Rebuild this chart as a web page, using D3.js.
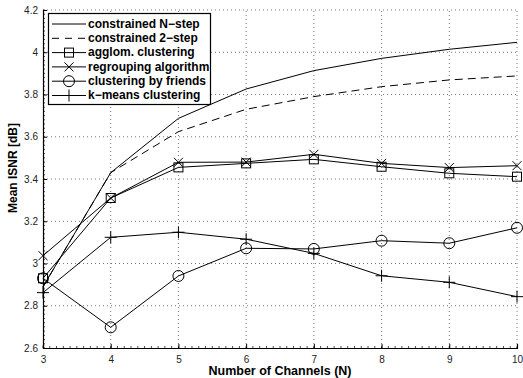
<!DOCTYPE html>
<html>
<head>
<meta charset="utf-8">
<script src="https://cdn.jsdelivr.net/npm/d3@7"></script>
<style>
  body { margin: 0; background: #fff; }
  svg { display: block; }
  text { font-family: "Liberation Sans", Arial, sans-serif; }
</style>
</head>
<body>
<div id="chart"></div>
<script>
// channel counts on the x axis
var channels = [3, 4, 5, 6, 7, 8, 9, 10];

// mean ISNR per method [dB]
var constrainedN  = [2.89, 3.43, 3.687, 3.826, 3.913, 3.971, 4.014, 4.047];
var constrained2  = [2.89, 3.43, 3.624, 3.73, 3.79, 3.837, 3.869, 3.888];
var agglom        = [2.93, 3.31, 3.455, 3.474, 3.493, 3.458, 3.427, 3.411];
var regrouping    = [3.037, 3.31, 3.479, 3.48, 3.517, 3.474, 3.454, 3.463];
var friends       = [2.93, 2.698, 2.941, 3.072, 3.069, 3.108, 3.096, 3.169];
var kmeans        = [2.862, 3.124, 3.148, 3.115, 3.048, 2.942, 2.911, 2.843];

var yTicks = [2.6, 2.8, 3, 3.2, 3.4, 3.6, 3.8, 4, 4.2];

var series = [
    { name: 'constrained N\u2212step', values: constrainedN, dash: null, marker: 'none' },
    { name: 'constrained 2\u2212step', values: constrained2, dash: '8,5', marker: 'none' },
    { name: 'agglom. clustering', values: agglom, dash: null, marker: 'square' },
    { name: 'regrouping algorithm', values: regrouping, dash: null, marker: 'cross' },
    { name: 'clustering by friends', values: friends, dash: null, marker: 'circle' },
    { name: 'k\u2212means clustering', values: kmeans, dash: null, marker: 'plus' }
];

var width = 523, height = 378;
var margin = { left: 43, right: 6, top: 10, bottom: 30 };

var svg = d3.select('#chart').append('svg')
    .attr('width', width)
    .attr('height', height);

var x = d3.scaleLinear().domain([3, 10]).range([margin.left, width - margin.right]);
var y = d3.scaleLinear().domain([2.6, 4.2]).range([height - margin.bottom, margin.top]);

// dotted grid
svg.append('g').selectAll('line')
    .data(channels.slice(1)).enter()
    .append('line')
    .attr('x1', function(d) { return x(d); })
    .attr('x2', function(d) { return x(d); })
    .attr('y1', y(2.6)).attr('y2', y(4.2))
    .attr('stroke', '#555').attr('stroke-width', 0.8)
    .attr('stroke-dasharray', '1,3');

svg.append('g').selectAll('line')
    .data(yTicks.slice(1)).enter()
    .append('line')
    .attr('x1', x(3)).attr('x2', x(10))
    .attr('y1', function(d) { return y(d); })
    .attr('y2', function(d) { return y(d); })
    .attr('stroke', '#555').attr('stroke-width', 0.8)
    .attr('stroke-dasharray', '1,3');

// axes, ticks pointing inward
var xAxis = d3.axisBottom(x).tickValues(channels).tickSize(-4).tickPadding(8)
    .tickFormat(d3.format('d'));
var yAxis = d3.axisLeft(y).tickValues(yTicks).tickSize(-4).tickPadding(5)
    .tickFormat(function(d) { return d3.format('')(+d.toFixed(1)); });

var gx = svg.append('g')
    .attr('transform', 'translate(0,' + y(2.6) + ')')
    .call(xAxis);
var gy = svg.append('g')
    .attr('transform', 'translate(' + x(3) + ',0)')
    .call(yAxis);

[gx, gy].forEach(function(g) {
    g.select('.domain').attr('stroke', '#000').attr('stroke-width', 1.2);
    g.selectAll('.tick line').attr('stroke', '#000');
    g.selectAll('.tick text').attr('font-size', 10).attr('fill', '#222');
});

// minor ticks along the axes
var xMinor = d3.range(3, 10.001, 0.1);
svg.append('g').selectAll('line')
    .data(xMinor).enter()
    .append('line')
    .attr('x1', function(d) { return x(d); })
    .attr('x2', function(d) { return x(d); })
    .attr('y1', y(2.6)).attr('y2', y(2.6) - 2)
    .attr('stroke', '#000').attr('stroke-width', 0.7);

var yMinor = d3.range(2.6, 4.2001, 0.02);
svg.append('g').selectAll('line')
    .data(yMinor).enter()
    .append('line')
    .attr('x1', x(3)).attr('x2', x(3) + 2)
    .attr('y1', function(d) { return y(d); })
    .attr('y2', function(d) { return y(d); })
    .attr('stroke', '#000').attr('stroke-width', 0.7);

// axis labels
svg.append('text')
    .attr('x', (x(3) + x(10)) / 2)
    .attr('y', height - 3)
    .attr('text-anchor', 'middle')
    .attr('font-size', 12.5).attr('font-weight', 'bold')
    .text('Number of Channels (N)');

svg.append('text')
    .attr('transform', 'translate(14,' + 168 + ') rotate(-90)')
    .attr('text-anchor', 'middle')
    .attr('dominant-baseline', 'middle')
    .attr('font-size', 12).attr('font-weight', 'bold')
    .text('Mean ISNR [dB]');

var drawMarker = function(g, type, cx, cy) {
    var s = 4.5;
    if (type === 'square') {
        g.append('rect').attr('x', cx - s).attr('y', cy - s)
            .attr('width', 2 * s).attr('height', 2 * s)
            .attr('fill', 'none').attr('stroke', '#000').attr('stroke-width', 1);
    } else if (type === 'circle') {
        g.append('circle').attr('cx', cx).attr('cy', cy).attr('r', 5.5)
            .attr('fill', 'none').attr('stroke', '#000').attr('stroke-width', 1);
    } else if (type === 'cross') {
        g.append('path')
            .attr('d', 'M' + (cx - s) + ',' + (cy - s) + 'L' + (cx + s) + ',' + (cy + s) +
                       'M' + (cx - s) + ',' + (cy + s) + 'L' + (cx + s) + ',' + (cy - s))
            .attr('stroke', '#000').attr('stroke-width', 1);
    } else if (type === 'plus') {
        var p = 6;
        g.append('path')
            .attr('d', 'M' + (cx - p) + ',' + cy + 'L' + (cx + p) + ',' + cy +
                       'M' + cx + ',' + (cy - p) + 'L' + cx + ',' + (cy + p))
            .attr('stroke', '#000').attr('stroke-width', 1);
    }
};

var line = d3.line()
    .x(function(d, i) { return x(channels[i]); })
    .y(function(d) { return y(d); });

var plot = svg.append('g');
series.forEach(function(s) {
    plot.append('path')
        .datum(s.values)
        .attr('d', line)
        .attr('fill', 'none')
        .attr('stroke', '#000')
        .attr('stroke-width', 1)
        .attr('stroke-dasharray', s.dash);
    s.values.forEach(function(v, i) {
        drawMarker(plot, s.marker, x(channels[i]), y(v));
    });
});

// legend
var legend = svg.append('g');
legend.append('rect')
    .attr('x', 48.5).attr('y', 13.5)
    .attr('width', 162).attr('height', 91)
    .attr('fill', '#fff').attr('stroke', '#000').attr('stroke-width', 1.2);

series.forEach(function(s, i) {
    var ly = 24 + i * 14.3;
    legend.append('line')
        .attr('x1', 52).attr('x2', 86)
        .attr('y1', ly).attr('y2', ly)
        .attr('stroke', '#000').attr('stroke-width', 1)
        .attr('stroke-dasharray', s.dash ? '7,6' : null);
    drawMarker(legend, s.marker, 69, ly);
    legend.append('text')
        .attr('x', 88).attr('y', ly + 0.5)
        .attr('dominant-baseline', 'middle')
        .attr('font-size', 12).attr('font-weight', 'bold')
        .text(s.name);
});
</script>
</body>
</html>
